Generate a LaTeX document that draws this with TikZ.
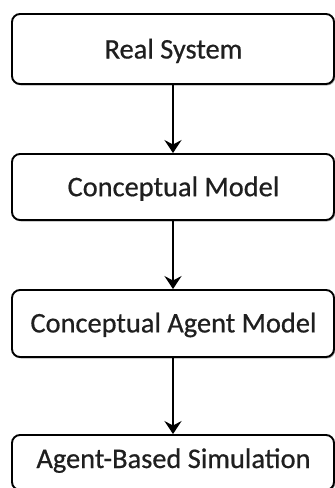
\documentclass[tikz,border=0pt]{standalone}
\usepackage{fontspec}
\newfontfamily\boxfont[FakeBold=0.6]{Carlito}
\usetikzlibrary{arrows.meta,shadows}
\tikzset{
  x=1pt, y=-1pt,
  stagebox/.style={draw=black, line width=1.9pt, rounded corners=8pt, fill=white,
    minimum width=322pt, inner sep=0pt,
    drop shadow={shadow xshift=1.2pt, shadow yshift=-1.5pt, fill=black, opacity=0.3}},
  stagetext/.style={font=\boxfont\fontsize{28.4}{32}\selectfont, text=black!88,
    anchor=base, inner sep=0pt},
  flow/.style={line width=2pt, draw=black, -{Stealth[length=13pt,width=17pt,inset=4.5pt]}}
}
\newcommand{\stage}[5]{%
  \node[stagebox, minimum height=#3pt] (#1) at (173,#2) {};
  \node[stagetext] (#1t) at (173.5,#4) {#5};
}
\begin{document}
\begin{tikzpicture}
  \useasboundingbox[fill=white] (0,0) rectangle (335,488);
  \stage{real}{49}{70}{58.5}{Real System}
  \stage{concept}{187}{66}{196.2}{Conceptual Model}
  \stage{agent}{323.5}{67}{332.4}{Conceptual Agent Model}
  \stage{abs}{462.5}{55}{468}{Agent-Based Simulation}
  \draw[flow] (real.south) -- (concept.north);
  \draw[flow] (concept.south) -- (agent.north);
  \draw[flow] (agent.south) -- (abs.north);
\end{tikzpicture}
\end{document}
